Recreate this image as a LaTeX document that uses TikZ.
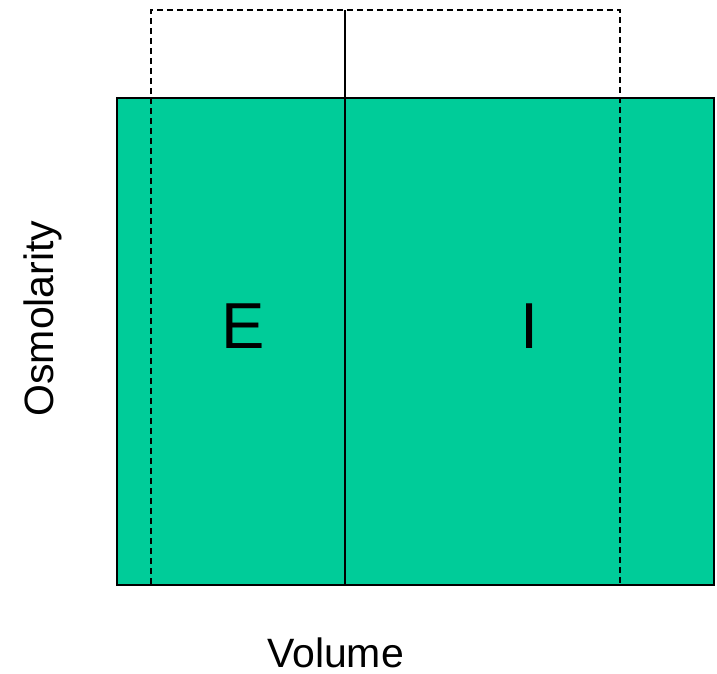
\documentclass[tikz,border=0pt]{standalone}
\usepackage{fontspec}
\setmainfont{Liberation Sans}
\definecolor{fluid}{HTML}{00CC99}
\tikzset{
  compartment/.style={fill=fluid, draw=black, line width=1.3pt},
  shifted/.style={draw=black, line width=1.2pt, dash pattern=on 6pt off 4pt},
  divider/.style={draw=black, line width=1.2pt},
  biglabel/.style={font=\fontsize{65}{78}\selectfont, anchor=base, inner sep=0pt},
  axislabel/.style={font=\fontsize{41}{49}\selectfont, anchor=base, inner sep=0pt, text depth=0pt}
}
\begin{document}
\begin{tikzpicture}[x=1pt, y=-1pt]
  \useasboundingbox (0,0) rectangle (717,673);
  % body fluid compartments
  \path[compartment] (117,98) rectangle (714,585);
  % shifted boundary after the change
  \draw[shifted] (151,584) -- (151,10) -- (620,10) -- (620,584);
  % boundary between extracellular and intracellular space
  \draw[divider] (345,10) -- (345,585);
  \node[biglabel] (ext) at (243.5,348) {E};
  \node[biglabel] (int) at (530,348) {I};
  \node[axislabel] (vol) at (335.5,667) {Volume};
  \node[axislabel, rotate=90] (osm) at (53.5,318.5) {Osmolarity};
\end{tikzpicture}
\end{document}
